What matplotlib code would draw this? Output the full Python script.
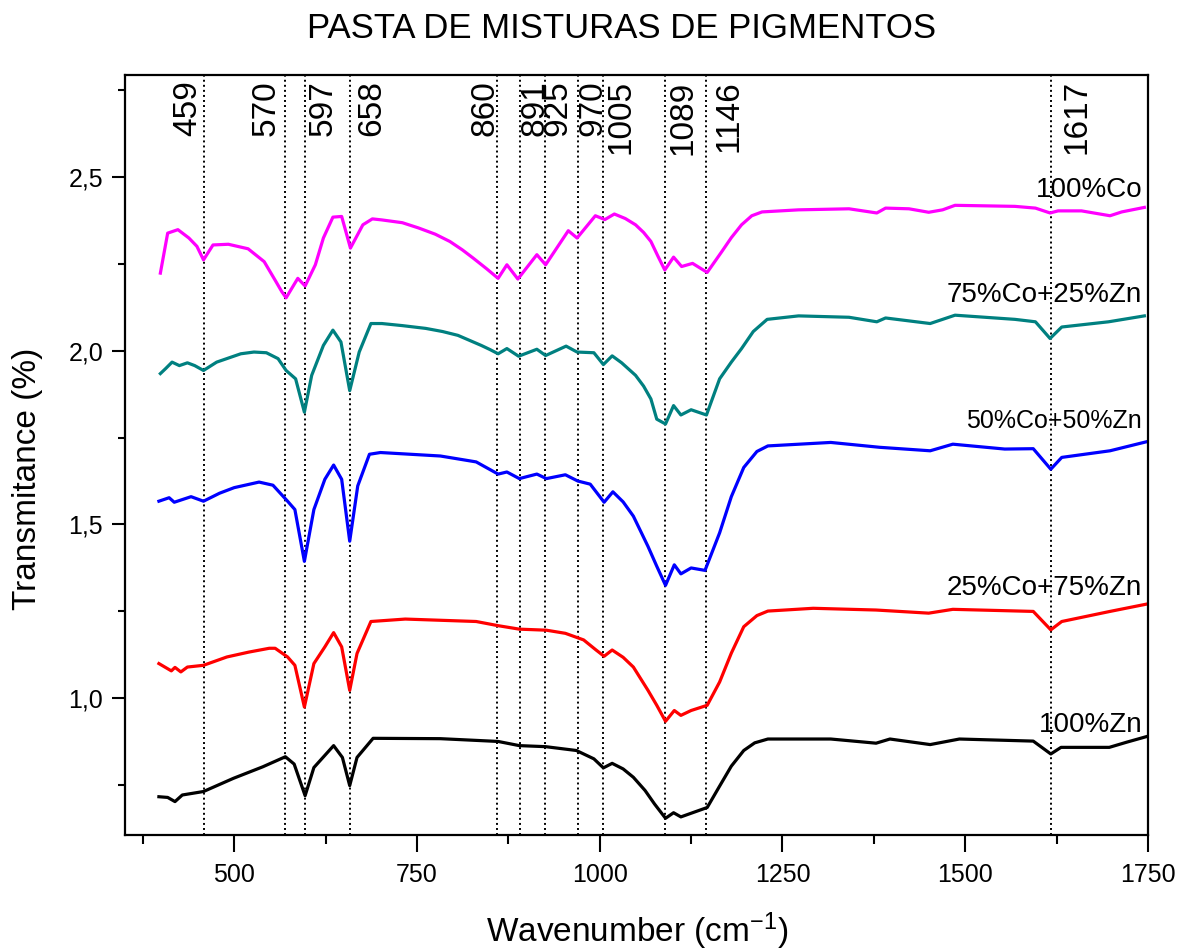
import matplotlib
matplotlib.use("Agg")
import matplotlib.pyplot as plt
from matplotlib.ticker import MultipleLocator, FuncFormatter

plt.rcParams['font.family'] = ['Liberation Sans', 'DejaVu Sans']
plt.rcParams['mathtext.fontset'] = 'custom'
plt.rcParams['mathtext.rm'] = 'Liberation Sans'
plt.rcParams['mathtext.it'] = 'Liberation Sans'

# --- data ---
zn100_x = [397, 409, 419, 429, 458, 499, 539, 570, 582, 597, 609, 636, 648, 658, 668, 690, 782,
           861, 890, 926, 968, 992, 1005, 1017, 1032, 1046, 1062, 1075, 1090, 1101, 1111, 1147,
           1163, 1180, 1197, 1212, 1230, 1316, 1378, 1397, 1452, 1492, 1593, 1617, 1631, 1697,
           1721, 1748]
zn100_y = [0.717, 0.715, 0.703, 0.722, 0.732, 0.770, 0.803, 0.832, 0.811, 0.720, 0.801, 0.864,
           0.830, 0.749, 0.830, 0.885, 0.884, 0.876, 0.864, 0.861, 0.850, 0.826, 0.800, 0.813,
           0.797, 0.773, 0.735, 0.696, 0.655, 0.671, 0.659, 0.686, 0.744, 0.805, 0.850, 0.872,
           0.883, 0.883, 0.871, 0.883, 0.867, 0.883, 0.877, 0.840, 0.859, 0.859, 0.874, 0.890]

zn75_x = [397, 414, 419, 427, 436, 458, 490, 520, 548, 556, 573, 583, 596, 609, 624, 636, 647,
          658, 668, 687, 734, 831, 861, 890, 927, 953, 978, 995, 1006, 1017, 1032, 1046, 1066,
          1078, 1090, 1102, 1111, 1125, 1147, 1164, 1180, 1197, 1215, 1230, 1292, 1378, 1450,
          1483, 1593, 1617, 1632, 1698, 1748]
zn75_y = [1.100, 1.079, 1.089, 1.076, 1.090, 1.095, 1.119, 1.133, 1.144, 1.144, 1.119, 1.095,
          0.975, 1.100, 1.148, 1.189, 1.148, 1.023, 1.129, 1.221, 1.228, 1.221, 1.209, 1.199,
          1.196, 1.187, 1.168, 1.139, 1.121, 1.139, 1.118, 1.090, 1.023, 0.980, 0.934, 0.965,
          0.951, 0.965, 0.980, 1.047, 1.130, 1.206, 1.238, 1.251, 1.259, 1.254, 1.245, 1.256,
          1.250, 1.197, 1.221, 1.250, 1.271]

co50_x = [397, 411, 418, 441, 458, 480, 500, 534, 553, 573, 583, 596, 609, 624, 636, 647, 658,
          669, 685, 700, 782, 831, 861, 873, 890, 914, 927, 953, 970, 987, 1006, 1018, 1032,
          1046, 1066, 1078, 1090, 1102, 1111, 1125, 1144, 1164, 1180, 1197, 1215, 1230, 1316,
          1383, 1452, 1483, 1554, 1593, 1617, 1632, 1698, 1748]
co50_y = [1.567, 1.577, 1.564, 1.580, 1.567, 1.590, 1.606, 1.622, 1.613, 1.567, 1.543, 1.394,
          1.543, 1.630, 1.671, 1.630, 1.452, 1.611, 1.702, 1.707, 1.697, 1.680, 1.645, 1.651,
          1.632, 1.645, 1.632, 1.643, 1.625, 1.616, 1.564, 1.594, 1.565, 1.524, 1.437, 1.380,
          1.325, 1.384, 1.358, 1.375, 1.368, 1.476, 1.580, 1.664, 1.710, 1.726, 1.736, 1.722,
          1.712, 1.731, 1.717, 1.718, 1.659, 1.693, 1.712, 1.738]

co75_x = [399, 406, 415, 425, 436, 446, 458, 476, 509, 527, 544, 560, 571, 584, 596, 606, 622,
          635, 646, 658, 671, 687, 702, 730, 762, 785, 806, 838, 850, 861, 873, 889, 914, 926,
          954, 969, 992, 1005, 1017, 1030, 1049, 1060, 1070, 1078, 1090, 1101, 1111, 1125, 1146,
          1164, 1180, 1194, 1210, 1229, 1272, 1341, 1379, 1391, 1452, 1486, 1568, 1596, 1616,
          1632, 1696, 1745]
co75_y = [1.934, 1.948, 1.967, 1.957, 1.965, 1.957, 1.943, 1.967, 1.991, 1.996, 1.994, 1.977,
          1.943, 1.919, 1.823, 1.929, 2.015, 2.059, 2.025, 1.885, 1.996, 2.078, 2.078, 2.072,
          2.064, 2.055, 2.044, 2.015, 2.003, 1.991, 2.006, 1.984, 2.004, 1.986, 2.013, 1.996,
          1.994, 1.960, 1.985, 1.965, 1.929, 1.898, 1.861, 1.803, 1.789, 1.842, 1.815, 1.830,
          1.815, 1.919, 1.967, 2.006, 2.055, 2.090, 2.100, 2.096, 2.083, 2.094, 2.078, 2.102,
          2.090, 2.083, 2.035, 2.068, 2.083, 2.100]

co100_x = [399, 409, 423, 438, 449, 458, 471, 492, 519, 541, 557, 565, 571, 587, 597, 611, 622,
           635, 647, 659, 676, 689, 702, 730, 752, 775, 795, 812, 827, 845, 861, 873, 888, 914,
           926, 957, 969, 994, 1007, 1020, 1035, 1049, 1060, 1070, 1080, 1089, 1101, 1112, 1127,
           1147, 1167, 1180, 1194, 1208, 1222, 1272, 1341, 1360, 1379, 1391, 1423, 1450, 1469,
           1486, 1568, 1596, 1616, 1627, 1659, 1698, 1714, 1745]
co100_y = [2.223, 2.338, 2.348, 2.324, 2.300, 2.261, 2.304, 2.306, 2.293, 2.256, 2.199, 2.170,
           2.152, 2.208, 2.186, 2.247, 2.324, 2.384, 2.386, 2.295, 2.362, 2.379, 2.376, 2.368,
           2.353, 2.335, 2.314, 2.290, 2.266, 2.236, 2.208, 2.247, 2.206, 2.276, 2.247, 2.345,
           2.324, 2.388, 2.377, 2.393, 2.380, 2.362, 2.340, 2.314, 2.270, 2.232, 2.269, 2.242,
           2.251, 2.225, 2.285, 2.325, 2.362, 2.388, 2.399, 2.405, 2.408, 2.402, 2.396, 2.410,
           2.408, 2.398, 2.405, 2.418, 2.415, 2.410, 2.396, 2.402, 2.402, 2.388, 2.399, 2.412]

series_names = ["100%Zn", "25%Co+75%Zn", "50%Co+50%Zn", "75%Co+25%Zn", "100%Co"]
series_colors = ["#000000", "#ff0000", "#0000ff", "#008080", "#ff00ff"]
series_x = [zn100_x, zn75_x, co50_x, co75_x, co100_x]
series_y = [zn100_y, zn75_y, co50_y, co75_y, co100_y]
label_y = [0.922, 1.318, 1.798, 2.159, 2.462]
label_size = [20, 20, 18, 20, 20]

peaks = [459, 570, 597, 658, 860, 891, 925, 970, 1005, 1089, 1146, 1617]
# horizontal shift of each peak label relative to its line (points)
peak_dx = [-12, -14, 13, 16, -9, 11, 9, 11, 13, 13, 16, 19]

fig = plt.figure(figsize=(11.85, 9.51), dpi=100)
ax = fig.add_axes([0.1051, 0.122, 0.8637, 0.7992])

for xs, ys, c in zip(series_x, series_y, series_colors):
  ax.plot(xs, ys, color=c, lw=2.3, solid_joinstyle='round')

for p, dx in zip(peaks, peak_dx):
  ax.axvline(p, color='black', lw=1.4, ls=(0, (1, 1.6)), zorder=1)
  ax.annotate(str(p), xy=(p, 0.993), xycoords=('data', 'axes fraction'),
              xytext=(dx, 0), textcoords='offset points',
              rotation=90, ha='center', va='top', fontsize=24)

for name, ly, fs in zip(series_names, label_y, label_size):
  ax.text(1742, ly, name, ha='right', va='center', fontsize=fs)

ax.set_xlim(350, 1750)
ax.set_ylim(0.607, 2.793)
ax.xaxis.set_major_locator(MultipleLocator(250))
ax.xaxis.set_minor_locator(MultipleLocator(125))
ax.yaxis.set_major_locator(MultipleLocator(0.5))
ax.yaxis.set_minor_locator(MultipleLocator(0.25))
ax.yaxis.set_major_formatter(FuncFormatter(lambda v, _: f"{v:.1f}".replace(".", ",")))

ax.tick_params(axis='x', which='major', direction='out', length=12, width=1.5, pad=8, labelsize=18)
ax.tick_params(axis='x', which='minor', direction='out', length=6.5, width=1.5)
ax.tick_params(axis='y', which='major', direction='out', length=9.5, width=1.5, pad=6, labelsize=18)
ax.tick_params(axis='y', which='minor', direction='out', length=5, width=1.5)
ax.tick_params(top=False, right=False, which='both')
for s in ax.spines.values():
  s.set_linewidth(1.6)

fig.text(621.5 / 1185, 1 - 28 / 951, "PASTA DE MISTURAS DE PIGMENTOS",
         ha='center', va='center', fontsize=25)
fig.text(637 / 1185, 1 - 931 / 951, "Wavenumber (cm$^{-1}$)",
         ha='center', va='center', fontsize=24)
fig.text(28 / 1185, 1 - 479 / 951, "Transmitance (%)",
         ha='center', va='center', rotation=90, fontsize=24)

fig.savefig("out.png", dpi=100)
